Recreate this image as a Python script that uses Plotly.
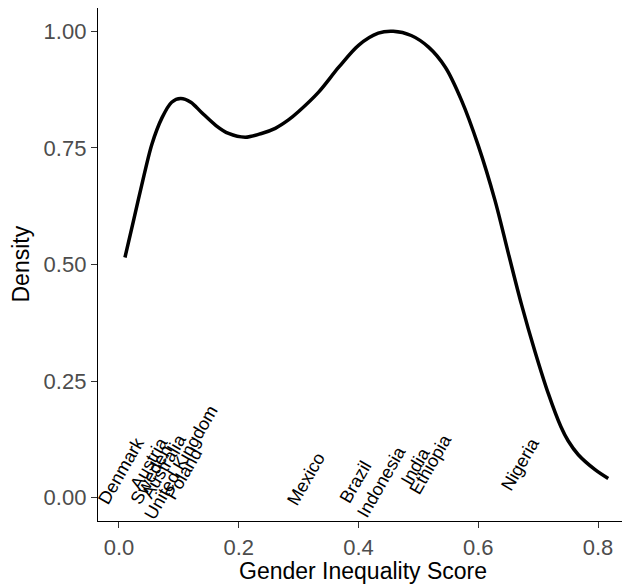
import plotly.graph_objects as go

# Density curve (scaled)
score_grid = [0.010, 0.025, 0.038, 0.055, 0.072, 0.088, 0.103, 0.120, 0.138, 0.162,
              0.183, 0.211, 0.238, 0.261, 0.283, 0.300, 0.333, 0.367, 0.400, 0.433,
              0.458, 0.488, 0.517, 0.545, 0.572, 0.600, 0.628, 0.650, 0.672, 0.695,
              0.717, 0.738, 0.750, 0.767, 0.795, 0.817]
density = [0.515, 0.598, 0.670, 0.758, 0.815, 0.848, 0.856, 0.848, 0.826, 0.798,
           0.781, 0.773, 0.781, 0.792, 0.810, 0.828, 0.869, 0.923, 0.970, 0.996,
           1.000, 0.991, 0.966, 0.923, 0.852, 0.755, 0.637, 0.525, 0.415, 0.312,
           0.223, 0.152, 0.122, 0.092, 0.060, 0.041]

# Country labels
countries = ["Denmark", "Sweden", "Austria", "Australia", "United Kingdom", "Poland",
             "Mexico", "Brazil", "Indonesia", "India", "Ethiopia", "Nigeria"]
country_score = [0.003, 0.055, 0.050, 0.075, 0.103, 0.108,
                 0.312, 0.395, 0.438, 0.495, 0.520, 0.670]
label_height = [0.058, 0.050, 0.075, 0.069, 0.075, 0.050,
                0.041, 0.034, 0.034, 0.069, 0.073, 0.073]

x_ticks = [0.0, 0.2, 0.4, 0.6, 0.8]
y_ticks = [0.0, 0.25, 0.5, 0.75, 1.0]

FONT = "Liberation Sans, Arial, sans-serif"

fig = go.Figure()
fig.add_trace(go.Scatter(
    x=score_grid, y=density, mode="lines",
    line=dict(color="black", width=3.5, shape="spline", smoothing=0.9),
    hoverinfo="skip", showlegend=False,
))

for name, xs, ys in zip(countries, country_score, label_height):
    fig.add_annotation(
        x=xs, y=ys, text=name, showarrow=False, textangle=-60,
        xanchor="center", yanchor="middle",
        font=dict(family=FONT, size=18, color="black"),
    )

# Axis titles as paper-anchored annotations
fig.add_annotation(xref="paper", yref="paper", x=0.5, y=0, yshift=-50,
                   text="Gender Inequality Score", showarrow=False,
                   xanchor="center", yanchor="middle",
                   font=dict(family=FONT, size=23, color="black"))
fig.add_annotation(xref="paper", yref="paper", x=0, y=0.5, xshift=-78,
                   text="Density", showarrow=False, textangle=-90,
                   xanchor="center", yanchor="middle",
                   font=dict(family=FONT, size=23, color="black"))

axis_common = dict(
    showgrid=False, zeroline=False, showline=True, linecolor="black", linewidth=1.3,
    ticks="outside", ticklen=6, tickwidth=1.3, tickcolor="#333333",
    tickfont=dict(family=FONT, size=22, color="#4D4D4D"),
    mirror=False, automargin=False,
)

# The page body has an 8px default margin, so the canvas is offset by 8px.
fig.update_layout(
    width=622, height=580,
    margin=dict(l=90, r=2, t=0, b=67),
    paper_bgcolor="white", plot_bgcolor="white",
    xaxis=dict(range=[-0.035, 0.85], tickvals=x_ticks,
               ticktext=[f"{v:.1f}" for v in x_ticks], **axis_common),
    yaxis=dict(range=[-0.05, 1.05], tickvals=y_ticks,
               ticktext=[f"{v:.2f}" for v in y_ticks], **axis_common),
)

fig.write_html("out.html")
